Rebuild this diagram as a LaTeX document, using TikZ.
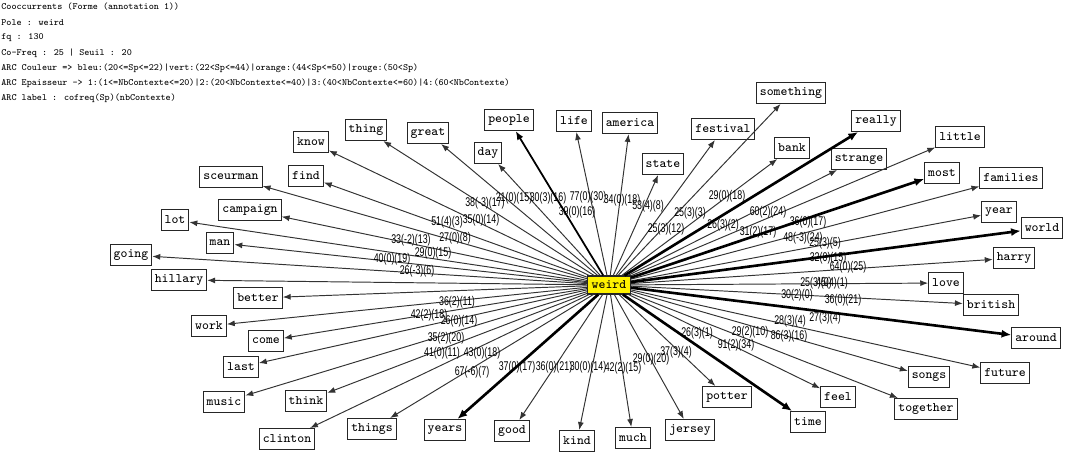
\documentclass[tikz,border=0pt]{standalone}
\usepackage{fontspec}
\usepackage{graphicx}
\usetikzlibrary{arrows.meta}

\newfontfamily\labfont{Liberation Sans}
\newcommand{\wordfont}{\ttfamily\fontsize{7.4pt}{8pt}\selectfont}
\newcommand{\hdrfont}{\ttfamily\fontsize{5.45pt}{6pt}\selectfont}
\newcommand{\cof}[1]{\scalebox{0.7}[1]{\labfont\fontsize{7.2pt}{8pt}\selectfont #1}}

\tikzset{
  word/.style={draw=black!85, line width=0.6pt, fill=white, font=\wordfont,
    inner xsep=2pt, inner ysep=0pt, minimum height=0.42cm},
  pole/.style={word, fill=yellow, minimum height=0.36cm, inner xsep=2.4pt},
  hdr/.style={anchor=west, font=\hdrfont, inner sep=0pt},
  cf/.style={inner sep=0pt},
  arc/.style={draw=black!80, line width=0.55pt, -{Latex[length=4.5pt,width=3.4pt]}},
  arcm/.style={arc, draw=black, line width=1pt, -{Latex[length=5pt,width=4pt]}},
  arcb/.style={arc, draw=black, line width=1.5pt, -{Latex[length=5.5pt,width=4.6pt]}},
}

\begin{document}
\begin{tikzpicture}[x=0.02cm, y=-0.02cm]
  \useasboundingbox (0,0) rectangle (1065,460);

  % header
  \node[hdr] (h1) at (1,7) {Cooccurrents (Forme (annotation 1))};
  \node[hdr] (h2) at (1,22.5) {Pole : weird};
  \node[hdr] (h3) at (1,38) {fq : 130};
  \node[hdr] (h4) at (1,53) {Co-Freq : 25 | Seuil : 20};
  \node[hdr] (h5) at (1,68) {ARC Couleur => bleu:(20<=Sp<=22)|vert:(22<Sp<=44)|orange:(44<Sp<=50)|rouge:(50<Sp)};
  \node[hdr] (h6) at (1,83) {ARC Epaisseur -> 1:(1<=NbContexte<=20)|2:(20<NbContexte<=40)|3:(40<NbContexte<=60)|4:(60<NbContexte)};
  \node[hdr] (h7) at (1,98.5) {ARC label : cofreq(Sp)(nbContexte)};

  % pole
  \node[pole] (weird) at (609,285) {weird};

  % co-occurrents, left and top
  \node[word] (going) at (131,255) {going};
  \node[word] (hillary) at (179,280) {hillary};
  \node[word] (lot) at (175,220) {lot};
  \node[word] (man) at (220,243) {man};
  \node[word] (campaign) at (250,210) {campaign};
  \node[word] (sceurman) at (231,177) {sceurman};
  \node[word] (find) at (306,176) {find};
  \node[word] (know) at (311,142) {know};
  \node[word] (thing) at (366,130) {thing};
  \node[word] (great) at (428,133) {great};
  \node[word] (day) at (488,153) {day};
  \node[word] (people) at (509,120) {people};
  \node[word] (life) at (574,121) {life};
  \node[word] (america) at (630,123) {america};
  \node[word] (state) at (663,164) {state};
  \node[word] (festival) at (723,129) {festival};
  \node[word] (something) at (791,93) {something};
  \node[word] (bank) at (792,148) {bank};
  \node[word] (really) at (876,121) {really};
  \node[word] (strange) at (859,159) {strange};
  \node[word] (little) at (960,137) {little};
  \node[word] (most) at (942,173) {most};

  % co-occurrents, right
  \node[word] (families) at (1011,178) {families};
  \node[word] (year) at (999,212) {year};
  \node[word] (world) at (1042,228) {world};
  \node[word] (harry) at (1014,258) {harry};
  \node[word] (love) at (946,283) {love};
  \node[word] (british) at (991,305) {british};
  \node[word] (around) at (1036,338) {around};
  \node[word] (future) at (1005,373) {future};
  \node[word] (songs) at (929,377) {songs};
  \node[word] (together) at (926,409) {together};

  % co-occurrents, bottom
  \node[word] (feel) at (838,397) {feel};
  \node[word] (time) at (808,422) {time};
  \node[word] (potter) at (727,397) {potter};
  \node[word] (jersey) at (690,430) {jersey};
  \node[word] (much) at (633,438) {much};
  \node[word] (kind) at (577,441) {kind};
  \node[word] (good) at (512,431) {good};
  \node[word] (years) at (445,430) {years};
  \node[word] (things) at (372,429) {things};
  \node[word] (clinton) at (287,439) {clinton};
  \node[word] (music) at (224,402) {music};
  \node[word] (think) at (306,401) {think};
  \node[word] (last) at (241,367) {last};
  \node[word] (come) at (266,341) {come};
  \node[word] (work) at (209,326) {work};
  \node[word] (better) at (258,298) {better};

  % arcs
  \foreach \w in {going,hillary,lot,man,campaign,sceurman,find,know,thing,great,
      day,life,america,state,festival,something,bank,strange,little,families,
      year,harry,love,british,future,songs,together,feel,potter,jersey,much,
      kind,good,things,clinton,music,think,last,come,work,better}
    \draw[arc] (weird) -- (\w);
  \draw[arcm] (weird) -- (people);
  \foreach \w in {really,most,world,around,time,years}
    \draw[arcb] (weird) -- (\w);

  % arc labels cofreq(Sp)(nbContexte)
  \node[cf] (c1) at (485,203) {\cof{38(-3)(17)}};
  \node[cf] (c2) at (514,198) {\cof{21(0)(15)}};
  \node[cf] (c3) at (548,198) {\cof{30(3)(16)}};
  \node[cf] (c4) at (588,197) {\cof{77(0)(30)}};
  \node[cf] (c5) at (622,200) {\cof{34(0)(18)}};
  \node[cf] (c6) at (648,206) {\cof{53(4)(8)}};
  \node[cf] (c7) at (577,212) {\cof{39(0)(16)}};
  \node[cf] (c8) at (447,222) {\cof{51(4)(3)}};
  \node[cf] (c9) at (481,220) {\cof{35(0)(14)}};
  \node[cf] (c10) at (411,240) {\cof{33(-2)(13)}};
  \node[cf] (c11) at (455,238) {\cof{27(0)(8)}};
  \node[cf] (c12) at (392,259) {\cof{40(0)(19)}};
  \node[cf] (c13) at (433,253) {\cof{29(0)(15)}};
  \node[cf] (c14) at (417,271) {\cof{26(-3)(6)}};
  \node[cf] (c15) at (727,196) {\cof{29(0)(18)}};
  \node[cf] (c16) at (690,213) {\cof{25(3)(3)}};
  \node[cf] (c17) at (666,229) {\cof{25(3)(12)}};
  \node[cf] (c18) at (723,225) {\cof{26(3)(2)}};
  \node[cf] (c19) at (768,212) {\cof{60(2)(24)}};
  \node[cf] (c20) at (758,232) {\cof{31(2)(17)}};
  \node[cf] (c21) at (808,222) {\cof{36(0)(17)}};
  \node[cf] (c22) at (803,238) {\cof{48(-3)(24)}};
  \node[cf] (c23) at (825,243) {\cof{25(3)(5)}};
  \node[cf] (c24) at (828,258) {\cof{32(0)(15)}};
  \node[cf] (c25) at (848,267) {\cof{64(0)(25)}};
  \node[cf] (c26) at (816,283) {\cof{25(3)(0)}};
  \node[cf] (c27) at (832,283) {\cof{45(4)(1)}};
  \node[cf] (c28) at (797,295) {\cof{30(2)(0)}};
  \node[cf] (c29) at (843,300) {\cof{36(0)(21)}};
  \node[cf] (c30) at (790,321) {\cof{28(3)(4)}};
  \node[cf] (c31) at (825,318) {\cof{27(3)(4)}};
  \node[cf] (c32) at (697,333) {\cof{26(3)(1)}};
  \node[cf] (c33) at (750,332) {\cof{29(2)(10)}};
  \node[cf] (c34) at (789,336) {\cof{86(3)(16)}};
  \node[cf] (c35) at (736,345) {\cof{91(2)(34)}};
  \node[cf] (c36) at (676,352) {\cof{37(3)(4)}};
  \node[cf] (c37) at (651,359) {\cof{29(0)(20)}};
  \node[cf] (c38) at (457,302) {\cof{36(2)(11)}};
  \node[cf] (c39) at (429,315) {\cof{42(2)(18)}};
  \node[cf] (c40) at (459,321) {\cof{26(0)(14)}};
  \node[cf] (c41) at (446,338) {\cof{35(2)(20)}};
  \node[cf] (c42) at (442,353) {\cof{41(0)(11)}};
  \node[cf] (c43) at (482,353) {\cof{43(0)(18)}};
  \node[cf] (c44) at (472,372) {\cof{67(-6)(7)}};
  \node[cf] (c45) at (517,367) {\cof{37(0)(17)}};
  \node[cf] (c46) at (554,367) {\cof{36(0)(21)}};
  \node[cf] (c47) at (588,367) {\cof{30(0)(14)}};
  \node[cf] (c48) at (623,368) {\cof{42(2)(15)}};
\end{tikzpicture}
\end{document}
